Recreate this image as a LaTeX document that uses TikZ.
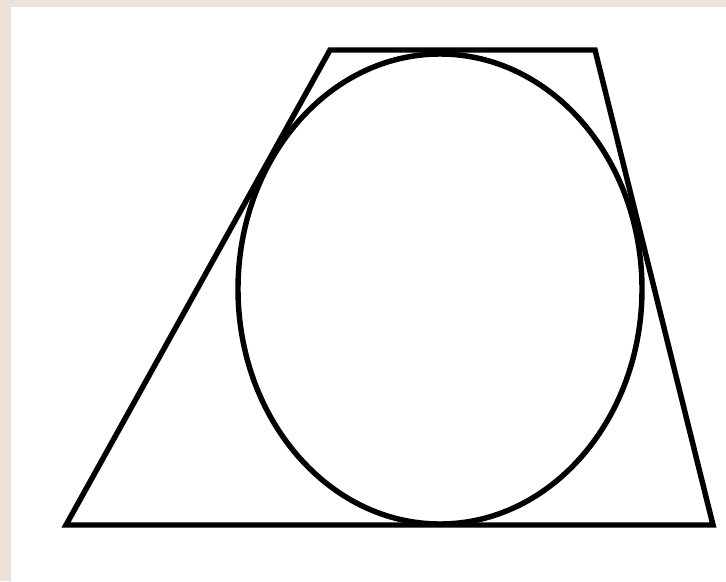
\documentclass[tikz,border=0pt]{standalone}
\usepackage{tikz}

\definecolor{paper}{RGB}{238,226,216}

\begin{document}
\begin{tikzpicture}[x=0.02cm, y=-0.02cm, figline/.style={line width=3.1pt, line join=miter}]
\fill[paper] (0,0) rectangle (726,581);
\fill[white] (11,7) rectangle (726,581);
\useasboundingbox (0,0) rectangle (726,581);
\coordinate (tl) at (330,50);
\coordinate (tr) at (595,50);
\coordinate (br) at (713,525);
\coordinate (bl) at (66,525);
\coordinate (centre) at (440,289);
\draw[figline] (tl) -- (tr) -- (br) -- (bl) -- cycle;
\draw[figline] (centre) ellipse [x radius=202, y radius=235];
\end{tikzpicture}
\end{document}
